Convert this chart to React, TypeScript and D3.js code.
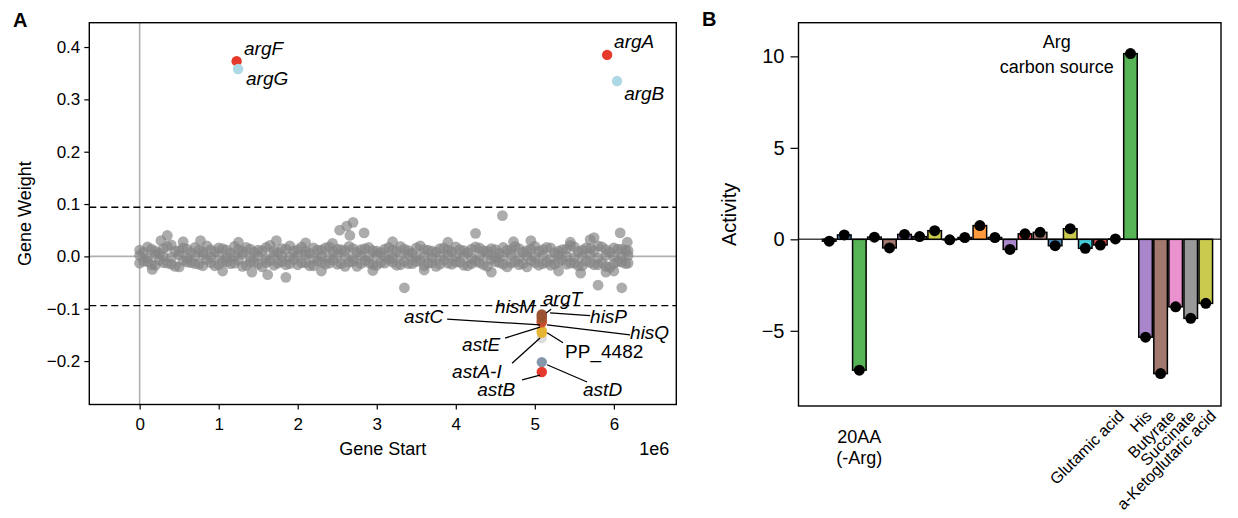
import React, { useEffect, useRef } from 'react';
import * as d3 from 'd3';

const FONT = "'Liberation Sans', Arial, Helvetica, sans-serif";

// ---- Panel A: gene weights (gene start in units of 1e6 bp) ----
const cloudStart = [
  0.0, 0.1, 0.2, 0.3, 0.4, 0.5, 0.6, 0.7, 0.8, 0.9, 1.0, 1.1, 1.2, 1.3, 1.4, 1.5, 1.6, 1.7, 1.8, 1.9, 2.0,
  2.1, 2.2, 2.3, 2.4, 2.5, 2.6, 2.7, 2.8, 2.9, 3.0, 3.1, 3.2, 3.3, 3.4, 3.5, 3.6, 3.7, 3.8, 3.9, 4.0, 4.1,
  4.2, 4.3, 4.4, 4.5, 4.6, 4.7, 4.8, 4.9, 5.0, 5.1, 5.2, 5.3, 5.4, 5.5, 5.6, 5.7, 5.8, 5.9, 6.0, 6.1, 6.18,
];
const cloudHi = [
  0.012, 0.018, 0.010, 0.015, 0.022, 0.011, 0.014, 0.017, 0.009, 0.013, 0.016, 0.012, 0.019, 0.010, 0.014,
  0.012, 0.017, 0.011, 0.015, 0.020, 0.013, 0.010, 0.016, 0.012, 0.018, 0.014, 0.011, 0.015, 0.013, 0.017,
  0.010, 0.014, 0.012, 0.019, 0.011, 0.016, 0.013, 0.010, 0.015, 0.012, 0.018, 0.011, 0.014, 0.016, 0.010,
  0.013, 0.017, 0.012, 0.015, 0.011, 0.019, 0.013, 0.016, 0.010, 0.014, 0.018, 0.012, 0.015, 0.020, 0.013,
  0.016, 0.014, 0.011,
];
const cloudMid = [
  0.002, -0.003, 0.004, 0.000, -0.002, 0.003, -0.004, 0.001, 0.003, -0.001, 0.002, -0.003, 0.000, 0.004,
  -0.002, 0.001, -0.004, 0.003, 0.000, -0.001, 0.002, 0.004, -0.003, 0.001, -0.002, 0.003, 0.000, -0.004,
  0.002, -0.001, 0.003, 0.000, -0.003, 0.002, 0.004, -0.002, 0.001, -0.003, 0.000, 0.003, -0.001, 0.002,
  -0.004, 0.001, 0.003, -0.002, 0.000, 0.004, -0.003, 0.001, -0.001, 0.002, -0.004, 0.003, 0.000, -0.002,
  0.001, 0.004, -0.003, 0.002, 0.000, -0.001, 0.002,
];
const cloudLo = [
  -0.013, -0.010, -0.017, -0.012, -0.015, -0.020, -0.011, -0.014, -0.018, -0.012, -0.016, -0.010, -0.013,
  -0.019, -0.011, -0.015, -0.012, -0.017, -0.010, -0.014, -0.016, -0.012, -0.018, -0.011, -0.013, -0.015,
  -0.019, -0.010, -0.014, -0.012, -0.017, -0.013, -0.011, -0.016, -0.014, -0.010, -0.018, -0.012, -0.015,
  -0.013, -0.011, -0.017, -0.014, -0.012, -0.019, -0.010, -0.015, -0.013, -0.016, -0.020, -0.012, -0.014,
  -0.017, -0.011, -0.015, -0.013, -0.018, -0.012, -0.016, -0.019, -0.014, -0.011, -0.013,
];
// second, interleaved row of background genes
const cloudStart2 = [
  0.05, 0.15, 0.25, 0.35, 0.45, 0.55, 0.65, 0.75, 0.85, 0.95, 1.05, 1.15, 1.25, 1.35, 1.45, 1.55, 1.65, 1.75,
  1.85, 1.95, 2.05, 2.15, 2.25, 2.35, 2.45, 2.55, 2.65, 2.75, 2.85, 2.95, 3.05, 3.15, 3.25, 3.35, 3.45, 3.55,
  3.65, 3.75, 3.85, 3.95, 4.05, 4.15, 4.25, 4.35, 4.45, 4.55, 4.65, 4.75, 4.85, 4.95, 5.05, 5.15, 5.25, 5.35,
  5.45, 5.55, 5.65, 5.75, 5.85, 5.95, 6.05, 6.15,
];
const cloudHi2 = [
  0.008, 0.014, 0.006, 0.019, 0.010, 0.016, 0.007, 0.012, 0.020, 0.009, 0.015, 0.006, 0.013, 0.017, 0.008,
  0.011, 0.021, 0.007, 0.014, 0.010, 0.018, 0.006, 0.012, 0.016, 0.009, 0.013, 0.019, 0.008, 0.015, 0.011,
  0.007, 0.017, 0.010, 0.014, 0.006, 0.020, 0.012, 0.008, 0.016, 0.009, 0.013, 0.007, 0.018, 0.011, 0.015,
  0.006, 0.012, 0.019, 0.008, 0.014, 0.010, 0.017, 0.007, 0.013, 0.021, 0.009, 0.016, 0.011, 0.018, 0.008,
  0.014, 0.012,
];
const cloudLo2 = [
  -0.009, -0.016, -0.007, -0.013, -0.019, -0.008, -0.012, -0.015, -0.006, -0.018, -0.010, -0.014, -0.007,
  -0.017, -0.011, -0.020, -0.008, -0.013, -0.016, -0.006, -0.012, -0.018, -0.009, -0.015, -0.007, -0.014,
  -0.011, -0.019, -0.008, -0.016, -0.012, -0.006, -0.017, -0.010, -0.014, -0.008, -0.013, -0.019, -0.007,
  -0.015, -0.011, -0.018, -0.009, -0.016, -0.006, -0.012, -0.020, -0.010, -0.014, -0.008, -0.017, -0.011,
  -0.015, -0.007, -0.013, -0.018, -0.009, -0.016, -0.012, -0.021, -0.010, -0.014,
];
const outlierStart = [
  0.16, 0.27, 0.35, 0.55, 0.77, 1.05, 1.25, 1.42, 1.62, 1.73, 1.85, 2.1, 2.3, 2.44, 2.53, 2.62, 2.7, 2.66,
  2.84, 2.95, 3.2, 3.35, 3.6, 3.9, 4.25, 4.45, 4.59, 4.73, 4.95, 5.3, 5.45, 5.58, 5.7, 5.75, 5.8, 5.9, 6.08,
  6.1, 6.17, 6.0,
];
const outlierWeight = [
  -0.025, 0.03, 0.04, 0.028, 0.03, -0.028, 0.027, -0.03, -0.035, 0.03, -0.04, 0.026, -0.028, 0.025, 0.05,
  0.058, 0.065, 0.04, 0.045, -0.027, 0.028, -0.06, -0.026, 0.027, 0.044, -0.03, 0.078, 0.028, 0.03, -0.028,
  0.027, -0.032, 0.032, 0.036, -0.055, -0.03, 0.045, -0.06, 0.027, -0.028,
];

const geneNames = ['argF', 'argG', 'argA', 'argB', 'astA-I', 'astE', 'PP_4482', 'hisQ', 'astC', 'hisP', 'hisM', 'argT', 'astD', 'astB'];
const geneStart = [1.227, 1.245, 5.915, 6.04, 5.088, 5.088, 5.088, 5.088, 5.088, 5.088, 5.088, 5.088, 5.088, 5.088];
const geneWeight = [0.373, 0.358, 0.385, 0.335, -0.156, -0.146, -0.142, -0.126, -0.123, -0.118, -0.114, -0.111, -0.202, -0.221];
const geneColor = ['#e5392b', '#add8e6', '#e5392b', '#add8e6', '#dcdcdc', '#e6b534', '#e6b534', '#cf5033', '#c94f2e', '#a3582f', '#9c5430', '#9a5230', '#8697ab', '#e5392b'];
const labelStart = [1.321, 1.346, 6.003, 6.130, 3.953, 4.080, 5.383, 6.205, 3.346, 5.699, 4.497, 5.104, 5.610, 4.270];
const labelWeight = [0.385, 0.328, 0.399, 0.299, -0.233, -0.181, -0.195, -0.158, -0.127, -0.127, -0.109, -0.093, -0.267, -0.267];

// connector lines: [text side start, text side weight, point side start, point side weight]
const connectors = [
  [3.890, -0.120, 5.066, -0.131],
  [5.699, -0.113, 5.193, -0.108],
  [6.205, -0.150, 5.155, -0.131],
  [4.624, -0.156, 5.066, -0.135],
  [5.357, -0.165, 5.155, -0.146],
  [4.712, -0.204, 5.066, -0.156],
  [4.839, -0.236, 5.066, -0.227],
  [5.661, -0.240, 5.155, -0.207],
  [5.206, -0.101, 5.143, -0.108],
];

const weightTicks = [-0.2, -0.1, 0.0, 0.1, 0.2, 0.3, 0.4];
const startTicks = [0, 1, 2, 3, 4, 5, 6];
const threshold = 0.094;

// ---- Panel B: activity per condition ----
const activity = [
  -0.1, 0.24, -7.15, 0.12, -0.47, 0.27, 0.15, 0.47, -0.03, 0.1, 0.75, 0.1, -0.55, 0.3, 0.38, -0.35, 0.58,
  -0.49, -0.31, 0.02, 10.15, -5.35, -7.34, -3.69, -4.32, -3.5,
];
const barColors = [
  '#d62728', '#1f77b4', '#2ca02c', '#e377c2', '#8c564b', '#9467bd', '#7f7f7f', '#bcbd22', '#1f77b4', '#d62728',
  '#ff7f0e', '#17becf', '#9467bd', '#d62728', '#8c564b', '#1f77b4', '#bcbd22', '#17becf', '#d62728', '#8c564b',
  '#2ca02c', '#9467bd', '#8c564b', '#e377c2', '#7f7f7f', '#bcbd22',
];
const activityTicks = [-5, 0, 5, 10];
const rotLabels = ['Glutamic acid', 'His', 'Butyrate', 'Succinate', 'a-Ketoglutaric acid'];
const rotLabelAt = [19.64, 21.48, 23.07, 24.4, 25.75];
const flatLabel = ['20AA', '(-Arg)'];
const flatLabelAt = 2;
const noteLines = ['Arg', 'carbon source'];
const noteAt = [15.1, 10.45];

type Sel = d3.Selection<SVGSVGElement, unknown, null, undefined>;

function styleAxis(g: d3.Selection<SVGGElement, unknown, null, undefined>, size: number) {
  g.attr('font-family', FONT).attr('font-size', size);
  g.select('.domain').remove();
  g.selectAll('.tick line').attr('stroke', '#000').attr('stroke-width', 1.2);
  g.selectAll('.tick text').attr('fill', '#000');
}

function drawGeneWeights(svg: Sel) {
  const A = { left: 89.3, right: 676.3, top: 22.7, bottom: 404.5 };
  const x = d3.scaleLinear().domain([-0.637, 6.79]).range([A.left, A.right]);
  const y = d3.scaleLinear().domain([-0.283, 0.4465]).range([A.bottom, A.top]);

  svg.append('clipPath').attr('id', 'clipA')
    .append('rect').attr('x', A.left).attr('y', A.top)
    .attr('width', A.right - A.left).attr('height', A.bottom - A.top);

  const g = svg.append('g').attr('clip-path', 'url(#clipA)');

  g.append('line').attr('x1', x(0)).attr('x2', x(0)).attr('y1', A.top).attr('y2', A.bottom)
    .attr('stroke', '#b0b0b0').attr('stroke-width', 1.6);
  g.append('line').attr('x1', A.left).attr('x2', A.right).attr('y1', y(0)).attr('y2', y(0))
    .attr('stroke', '#b0b0b0').attr('stroke-width', 1.6);
  [threshold, -threshold].forEach(t => {
    g.append('line').attr('x1', A.left).attr('x2', A.right).attr('y1', y(t)).attr('y2', y(t))
      .attr('stroke', '#000').attr('stroke-width', 1.4).attr('stroke-dasharray', '7,4');
  });

  const cloud: [number, number][] = [];
  cloudStart.forEach((s, i) => {
    cloud.push([s, cloudHi[i]]);
    cloud.push([s, cloudMid[i]]);
    cloud.push([s, cloudLo[i]]);
  });
  cloudStart2.forEach((s, i) => {
    cloud.push([s, cloudHi2[i]]);
    cloud.push([s, cloudLo2[i]]);
  });
  outlierStart.forEach((s, i) => cloud.push([s, outlierWeight[i]]));

  g.selectAll('.bg').data(cloud).join('circle')
    .attr('class', 'bg')
    .attr('cx', d => x(d[0])).attr('cy', d => y(d[1])).attr('r', 5.4)
    .attr('fill', '#858585').attr('fill-opacity', 0.68);

  g.selectAll('.hi').data(geneNames).join('circle')
    .attr('class', 'hi')
    .attr('cx', (_, i) => x(geneStart[i])).attr('cy', (_, i) => y(geneWeight[i])).attr('r', 5.2)
    .attr('fill', (_, i) => geneColor[i]);

  g.selectAll('.conn').data(connectors).join('line')
    .attr('class', 'conn')
    .attr('x1', d => x(d[0])).attr('y1', d => y(d[1]))
    .attr('x2', d => x(d[2])).attr('y2', d => y(d[3]))
    .attr('stroke', '#000').attr('stroke-width', 1.3);

  svg.append('g').selectAll('text').data(geneNames).join('text')
    .attr('x', (_, i) => x(labelStart[i])).attr('y', (_, i) => y(labelWeight[i]))
    .attr('font-family', FONT).attr('font-size', 19)
    .attr('font-style', d => (d.startsWith('PP') ? 'normal' : 'italic'))
    .text(d => d);

  const ya = svg.append('g').attr('transform', `translate(${A.left},0)`)
    .call(d3.axisLeft(y).tickValues(weightTicks).tickFormat(d3.format('.1f')).tickSize(5).tickPadding(4));
  styleAxis(ya, 17);
  const xa = svg.append('g').attr('transform', `translate(0,${A.bottom})`)
    .call(d3.axisBottom(x).tickValues(startTicks).tickFormat(d3.format('d')).tickSize(5).tickPadding(8));
  styleAxis(xa, 17);

  svg.append('rect').attr('x', A.left).attr('y', A.top)
    .attr('width', A.right - A.left).attr('height', A.bottom - A.top)
    .attr('fill', 'none').attr('stroke', '#000').attr('stroke-width', 1.4);

  svg.append('text').attr('x', (A.left + A.right) / 2).attr('y', 455)
    .attr('text-anchor', 'middle').attr('font-family', FONT).attr('font-size', 18).text('Gene Start');
  svg.append('text').attr('x', A.right - 7).attr('y', 455)
    .attr('text-anchor', 'end').attr('font-family', FONT).attr('font-size', 18).text('1e6');
  svg.append('text').attr('transform', `translate(31,${(A.top + A.bottom) / 2}) rotate(-90)`)
    .attr('text-anchor', 'middle').attr('font-family', FONT).attr('font-size', 18).text('Gene Weight');
  svg.append('text').attr('x', 13).attr('y', 27)
    .attr('font-family', FONT).attr('font-size', 20).attr('font-weight', 'bold').text('A');
}

function drawActivity(svg: Sel) {
  const B = { left: 798.5, right: 1221, top: 22.7, bottom: 406 };
  const x = d3.scaleLinear().domain([-2.04, 26.01]).range([B.left, B.right]);
  const y = d3.scaleLinear().domain([-9.11, 11.84]).range([B.bottom, B.top]);
  const half = 0.45;

  const g = svg.append('g');
  g.append('line').attr('x1', B.left).attr('x2', B.right).attr('y1', y(0)).attr('y2', y(0))
    .attr('stroke', '#444').attr('stroke-width', 1.5);

  g.selectAll('.bar').data(activity).join('rect')
    .attr('class', 'bar')
    .attr('x', (_, i) => x(i - half))
    .attr('width', (_, i) => x(i + half) - x(i - half))
    .attr('y', d => y(Math.max(0, d)))
    .attr('height', d => Math.abs(y(d) - y(0)))
    .attr('fill', (_, i) => barColors[i]).attr('fill-opacity', 0.8)
    .attr('stroke', '#000').attr('stroke-width', 1.5);

  g.selectAll('.dot').data(activity).join('circle')
    .attr('class', 'dot')
    .attr('cx', (_, i) => x(i)).attr('cy', d => y(d)).attr('r', 5.5)
    .attr('fill', '#000');

  const ya = svg.append('g').attr('transform', `translate(${B.left},0)`)
    .call(d3.axisLeft(y).tickValues(activityTicks).tickFormat(d3.format('d')).tickSize(8).tickPadding(6));
  styleAxis(ya, 20);

  svg.append('rect').attr('x', B.left).attr('y', B.top)
    .attr('width', B.right - B.left).attr('height', B.bottom - B.top)
    .attr('fill', 'none').attr('stroke', '#000').attr('stroke-width', 1.4);

  const flat = svg.append('text').attr('font-family', FONT).attr('font-size', 18).attr('text-anchor', 'middle');
  flatLabel.forEach((t, k) => {
    flat.append('tspan').attr('x', x(flatLabelAt)).attr('y', 443 + k * 21).text(t);
  });

  svg.append('g').selectAll('text').data(rotLabels).join('text')
    .attr('transform', (_, i) => `translate(${x(rotLabelAt[i])},${B.bottom + 11}) rotate(-45)`)
    .attr('text-anchor', 'end').attr('font-family', FONT).attr('font-size', 16)
    .text(d => d);

  const note = svg.append('text').attr('font-family', FONT).attr('font-size', 18).attr('text-anchor', 'middle');
  noteLines.forEach((t, k) => {
    note.append('tspan').attr('x', x(noteAt[0])).attr('y', y(noteAt[1]) + k * 25).text(t);
  });

  svg.append('text').attr('transform', `translate(736,${(B.top + B.bottom) / 2}) rotate(-90)`)
    .attr('text-anchor', 'middle').attr('font-family', FONT).attr('font-size', 20).text('Activity');
  svg.append('text').attr('x', 702).attr('y', 26)
    .attr('font-family', FONT).attr('font-size', 20).attr('font-weight', 'bold').text('B');
}

export default function App() {
  const ref = useRef<SVGSVGElement>(null);

  useEffect(() => {
    const svg = d3.select(ref.current as SVGSVGElement);
    svg.selectAll('*').remove();
    drawGeneWeights(svg);
    drawActivity(svg);
  }, []);

  return (
    <div style={{ position: 'absolute', left: 0, top: 0 }}>
      <svg ref={ref} width={1238} height={518} style={{ display: 'block', background: '#fff' }} />
    </div>
  );
}
